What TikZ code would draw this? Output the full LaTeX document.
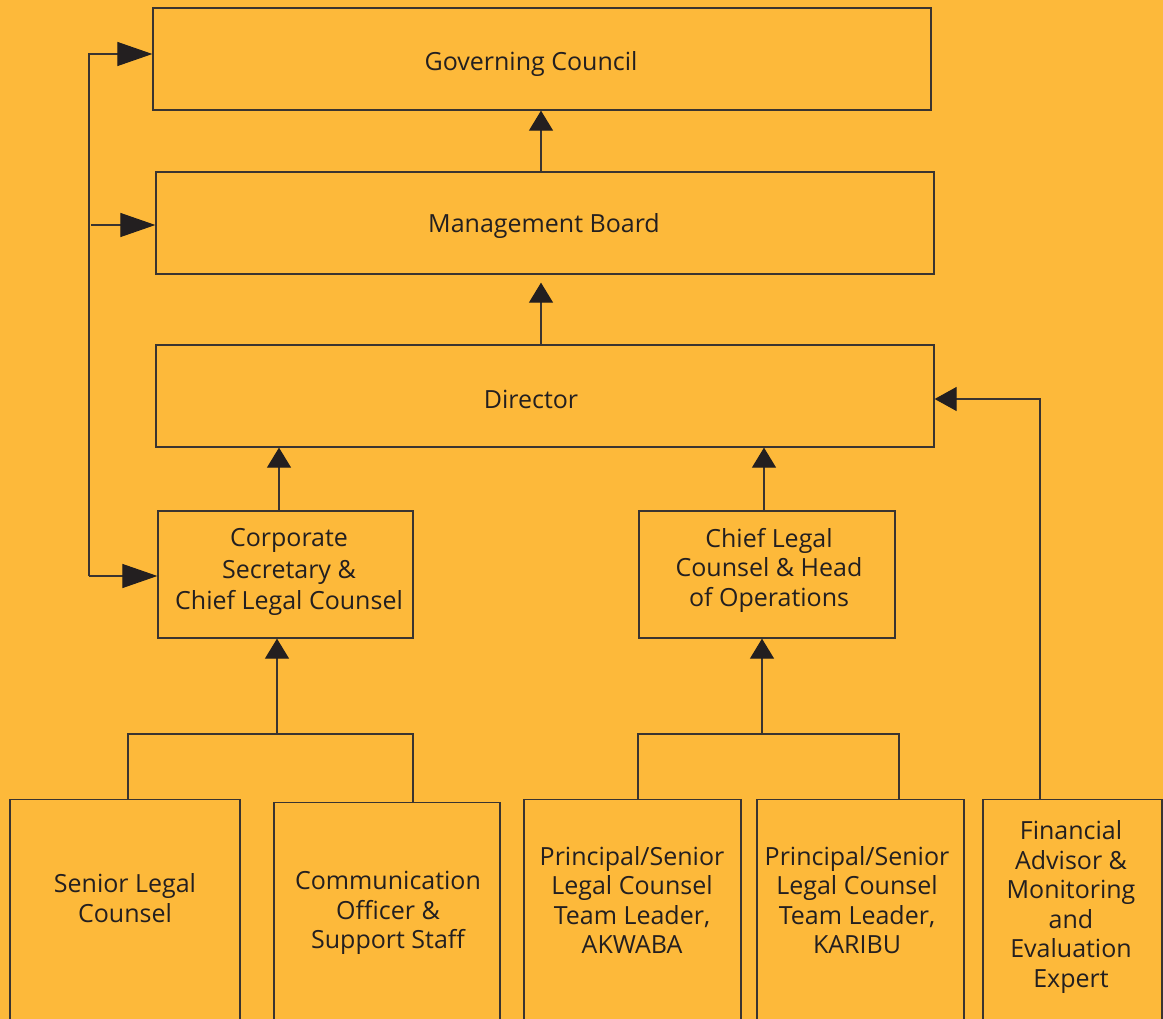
\documentclass[tikz,border=0pt]{standalone}
\usepackage{fontspec}
\setmainfont{Open Sans}
\usetikzlibrary{arrows.meta}
\definecolor{bg}{HTML}{FDB93A}
\definecolor{ink}{HTML}{231F20}
\definecolor{edge}{HTML}{3A3430}
\begin{document}
\begin{tikzpicture}[x=1pt,y=-1pt,
  box/.style={draw=edge,line width=1.3pt,inner sep=0pt,fill=none},
  txt/.style={text=ink,align=center,font=\fontsize{25}{29.5}\selectfont,inner sep=0pt},
  link/.style={draw=edge,line width=1.2pt},
  uparr/.style={link,-{Triangle[length=20pt,width=24pt,color=ink]}},
  sidearr/.style={link,-{Triangle[length=35pt,width=24pt,color=ink]}},
  backarr/.style={link,-{Triangle[length=22pt,width=24pt,color=ink]}}
]
\fill[bg] (0,0) rectangle (1163,1019);
\useasboundingbox (0,0) rectangle (1163,1019);
\clip (0,0) rectangle (1163,1019);
% boxes
\node[box,minimum width=778pt,minimum height=102pt] (gc) at (542,59) {};
\node[box,minimum width=778pt,minimum height=102pt] (mb) at (545,223) {};
\node[box,minimum width=778pt,minimum height=102pt] (dir) at (545,396) {};
\node[box,minimum width=255pt,minimum height=127pt] (cs) at (285.5,574.5) {};
\node[box,minimum width=256pt,minimum height=127pt] (cl) at (767,574.5) {};
\node[box,minimum width=230pt,minimum height=260pt,anchor=north] (sl) at (125,799) {};
\node[box,minimum width=226pt,minimum height=260pt,anchor=north] (co) at (387,802) {};
\node[box,minimum width=217pt,minimum height=260pt,anchor=north] (ak) at (632.5,799) {};
\node[box,minimum width=207pt,minimum height=260pt,anchor=north] (ka) at (860.5,799) {};
\node[box,minimum width=179pt,minimum height=260pt,anchor=north] (fa) at (1072.5,799) {};
% texts
\node[txt] (gct) at (531,64) {Governing Council};
\node[txt] (mbt) at (544,226) {Management Board};
\node[txt] (dirt) at (531,399) {Director};
\node[txt,font=\fontsize{25}{31.5}\selectfont] (cst) at (289,572) {Corporate\\Secretary \&\\Chief Legal Counsel};
\node[txt] (clt) at (769,570) {Chief Legal\\Counsel \& Head\\of Operations};
\node[txt] (slt) at (125,898) {Senior Legal\\Counsel};
\node[txt] (cot) at (388,913) {Communication\\Officer \&\\Support Staff};
\node[txt] (akt) at (632,900) {Principal/Senior\\Legal Counsel\\Team Leader,\\AKWABA};
\node[txt] (kat) at (857,900) {Principal/Senior\\Legal Counsel\\Team Leader,\\KARIBU};
\node[txt] (fat) at (1071,907) {Financial\\Advisor \&\\Monitoring\\and\\Evaluation\\Expert};
% vertical chain
\coordinate (c1) at (541,0);
\draw[uparr] (c1 |- mb.north) -- (c1 |- gc.south);
\draw[uparr,shorten >=8pt] (c1 |- dir.north) -- (c1 |- mb.south);
\coordinate (c2) at (279,0);
\draw[uparr] (c2 |- cs.north) -- (c2 |- dir.south);
\coordinate (c3) at (764,0);
\draw[uparr] (c3 |- cl.north) -- (c3 |- dir.south);
% buses
\coordinate (bus1) at (277,734);
\draw[link] ([xshift=3pt]sl.north) |- (bus1) -| ([xshift=26pt]co.north);
\draw[uparr] (bus1) -- (bus1 |- cs.south);
\coordinate (bus2) at (762,734);
\draw[link] ([xshift=5.5pt]ak.north) |- (bus2) -| ([xshift=38.5pt]ka.north);
\draw[uparr] (bus2) -- (bus2 |- cl.south);
% financial advisor
\draw[backarr] ([xshift=-32.5pt]fa.north) |- ([yshift=-3pt]dir.east);
% left side feedback
\coordinate (lv) at (89,0);
\coordinate (gcw) at ([yshift=5pt]gc.west);
\coordinate (mbw) at ([yshift=-2pt]mb.west);
\coordinate (csw) at ([yshift=-1.5pt]cs.west);
\draw[sidearr] (lv |- csw) -- (lv |- gcw) -- (gcw);
\draw[sidearr] (lv |- csw) -- (csw);
\draw[sidearr] ([xshift=2pt]lv |- mbw) -- (mbw);
\end{tikzpicture}
\end{document}
